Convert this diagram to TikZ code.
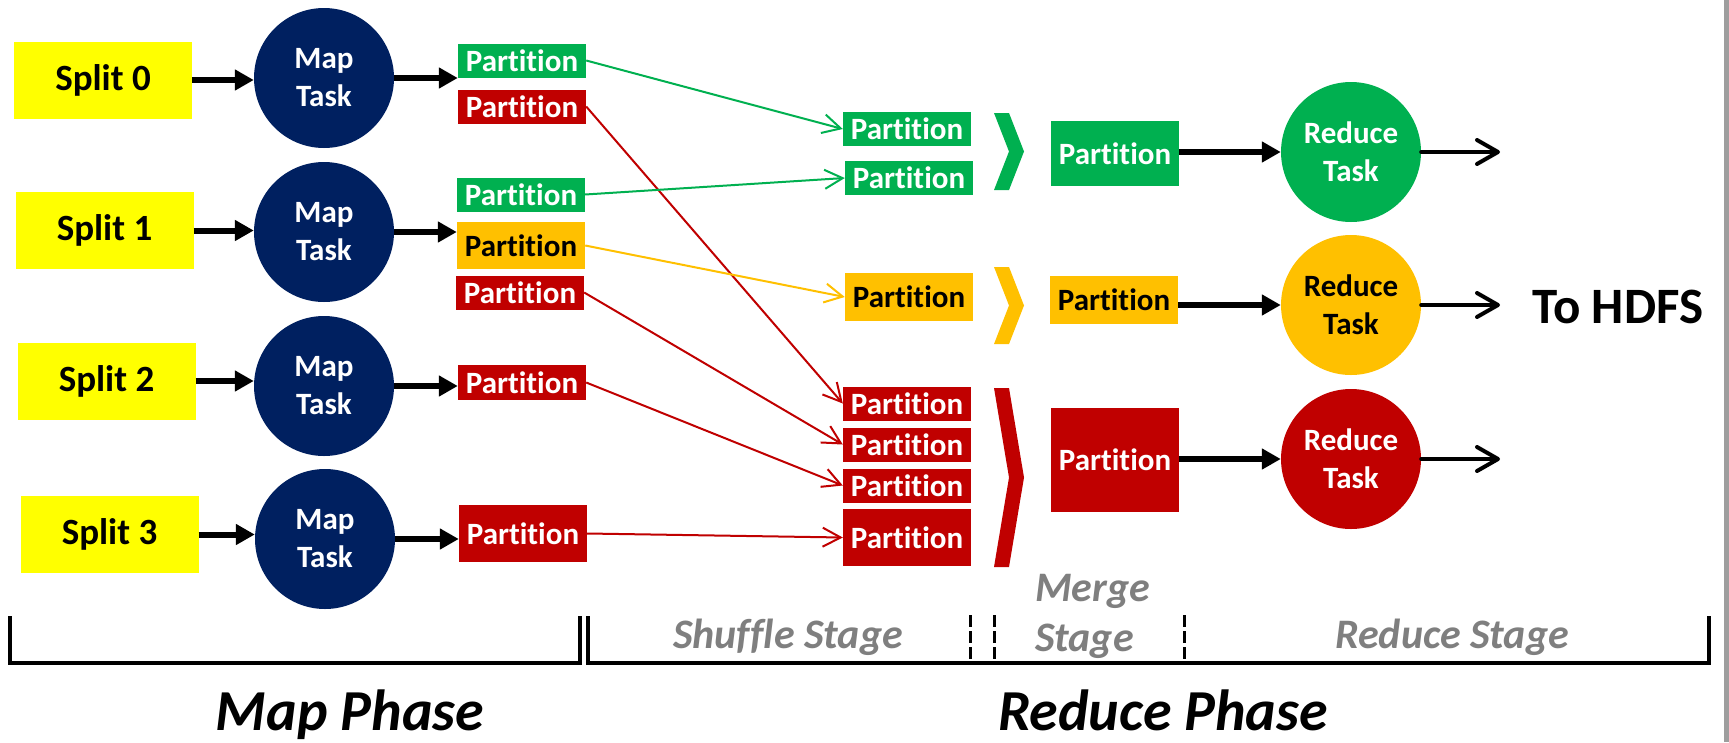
\documentclass[tikz,border=0pt]{standalone}
\usepackage{fontspec}
\setmainfont{Carlito}[Ligatures=NoCommon]
\usetikzlibrary{arrows.meta}
\definecolor{mapnavy}{HTML}{002060}
\definecolor{partgreen}{HTML}{00B050}
\definecolor{partred}{HTML}{C00000}
\definecolor{partorange}{HTML}{FFC000}
\definecolor{splityellow}{HTML}{FFFF00}
\definecolor{stagegray}{HTML}{7F7F7F}
\begin{document}
\begin{tikzpicture}%
	[x=1pt,
	y=-1pt,
	splitbox/.style={fill=splityellow, minimum width=178pt, minimum height=77pt, inner sep=0pt, font=\fontsize{37}{44}\selectfont\bfseries},
	task/.style={circle, minimum size=140pt, inner sep=0pt, align=center, font=\fontsize{31}{38}\selectfont\bfseries},
	maptask/.style={task, fill=mapnavy, text=white},
	part/.style={minimum width=128pt, minimum height=34pt, inner sep=0pt, font=\fontsize{31}{36}\selectfont\bfseries},
	greenpart/.style={part, fill=partgreen, text=white},
	redpart/.style={part, fill=partred, text=white},
	orangepart/.style={part, fill=partorange, text=black},
	bigarrow/.style={line width=6pt, -{Triangle[length=19pt,width=20pt]}},
	shuffleedge/.style={line width=2pt, -{Straight Barb[length=18pt,width=19pt]}},
	outarrow/.style={line width=4pt, line cap=round, -{Straight Barb[length=21pt,width=24pt,round]}},
	bracket/.style={line width=4pt, line join=miter},
	stagedash/.style={line width=3pt, dash pattern=on 12pt off 4pt},
	stagelabel/.style={inner sep=0pt, text=stagegray, font=\fontsize{42}{50}\selectfont\bfseries\itshape},
	phaselabel/.style={inner sep=0pt, font=\fontsize{58}{66}\selectfont\bfseries\itshape}]
%
\fill[white] (0,0) rectangle (1729,742);
\useasboundingbox (0,0) rectangle (1729,742);
\fill[black!38] (1724,0) rectangle (1729,742);
%%
%% Splits and map tasks
%%
\node[splitbox] (split0) at (103,80) {Split 0};
\node[splitbox] (split1) at (104.5,230.5) {Split 1};
\node[splitbox] (split2) at (106.5,381) {Split 2};
\node[splitbox] (split3) at (109.5,534.5) {Split 3};
\node[maptask] (map0) at (324,78) {Map\\Task};
\node[maptask] (map1) at (324,232) {Map\\Task};
\node[maptask] (map2) at (324,386) {Map\\Task};
\node[maptask] (map3) at (325,539) {Map\\Task};
%%
%% Partitions after the map tasks
%%
\node[greenpart] (p0g) at (522,60.5) {Partition};
\node[redpart] (p0r) at (522,106.5) {Partition};
\node[greenpart] (p1g) at (521,194.5) {Partition};
\node[orangepart, minimum height=47pt] (p1y) at (521,245.5) {Partition};
\node[redpart] (p1r) at (520,292.5) {Partition};
\node[redpart, minimum height=35pt] (p2r) at (522,382.5) {Partition};
\node[redpart, minimum height=57pt] (p3r) at (523,533.5) {Partition};
%%
%% Shuffled partitions
%%
\node[greenpart] (s0) at (907,129) {Partition};
\node[greenpart] (s1) at (909,178) {Partition};
\node[orangepart, minimum height=48pt] (s2) at (909,297) {Partition};
\node[redpart] (s3) at (907,403.5) {Partition};
\node[redpart] (s4) at (907,444.5) {Partition};
\node[redpart] (s5) at (907,485.5) {Partition};
\node[redpart, minimum height=57pt] (s6) at (907,537.5) {Partition};
%%
%% Merged partitions and reduce tasks
%%
\node[greenpart, minimum height=65pt] (mg) at (1115,153.5) {Partition};
\node[orangepart, minimum height=48pt] (my) at (1114,300) {Partition};
\node[redpart, minimum height=104pt] (mr) at (1115,460) {Partition};
\node[task, fill=partgreen, text=white] (rg) at (1351,152) {Reduce\\Task};
\node[task, fill=partorange, text=black] (ry) at (1351,305) {Reduce\\Task};
\node[task, fill=partred, text=white] (rr) at (1351,459) {Reduce\\Task};
\node[anchor=west, inner sep=0pt, font=\fontsize{51}{60}\selectfont\bfseries] (hdfs) at (1532,307) {To HDFS};
\coordinate (out0) at (1500,152);
\coordinate (out1) at (1500,305);
\coordinate (out2) at (1500,459);
%%
%% Merge chevrons
%%
\foreach \col/\top/\bot in {partgreen/113/190, partorange/267/344, partred/388/567}
	\fill[\col] (994,\top) -- (1009,\top) -- (1024,{(\top+\bot)/2}) -- (1009,\bot) -- (994,\bot) -- (1009,{(\top+\bot)/2}) -- cycle;
%%
%% Drawing the arrows
%%
\foreach \i in {0,...,3}
	\draw[bigarrow] (split\i.east) -- (split\i.east -| map\i.west);
\draw[bigarrow] (map0.east) -- (map0.east -| p0g.west);
\draw[bigarrow] (map1.east) -- (map1.east -| p1y.west);
\draw[bigarrow] (map2.east) -- (map2.east -| p2r.west);
\draw[bigarrow] (map3.east) -- (map3.east -| p3r.west);
\draw[shuffleedge, partgreen] (p0g.east) -- (s0.west);
\draw[shuffleedge, partred] (p0r.east) -- (s3.west);
\draw[shuffleedge, partgreen] (p1g.east) -- (s1.west);
\draw[shuffleedge, partorange] (p1y.east) -- (s2.west);
\draw[shuffleedge, partred] (p1r.east) -- (s4.west);
\draw[shuffleedge, partred] (p2r.east) -- (s5.west);
\draw[shuffleedge, partred] (p3r.east) -- (s6.west);
\draw[bigarrow] (mg.east |- rg) -- (rg);
\draw[bigarrow] (my.east |- ry) -- (ry);
\draw[bigarrow] (mr.east |- rr) -- (rr);
\draw[outarrow] (rg) -- (out0);
\draw[outarrow] (ry) -- (out1);
\draw[outarrow] (rr) -- (out2);
%%
%% Phases and stages
%%
\draw[bracket] (10,616) -- (10,663) -- (580,663) -- (580,616);
\draw[bracket] (588,616) -- (588,663) -- (1709,663) -- (1709,616);
\foreach \x in {970,994,1184}
	\draw[stagedash] (\x,615) -- (\x,663);
\node[stagelabel, anchor=base] (shufflelabel) at (788,648) {Shuffle Stage};
\node[stagelabel, anchor=west, align=left] (mergelabel) at (1035,616) {Merge\\Stage};
\node[stagelabel, anchor=base] (reducelabel) at (1452,648) {Reduce Stage};
\node[phaselabel, anchor=base] (mapphase) at (350,730) {Map Phase};
\node[phaselabel, anchor=base] (reducephase) at (1163,730) {Reduce Phase};
\end{tikzpicture}
\end{document}
